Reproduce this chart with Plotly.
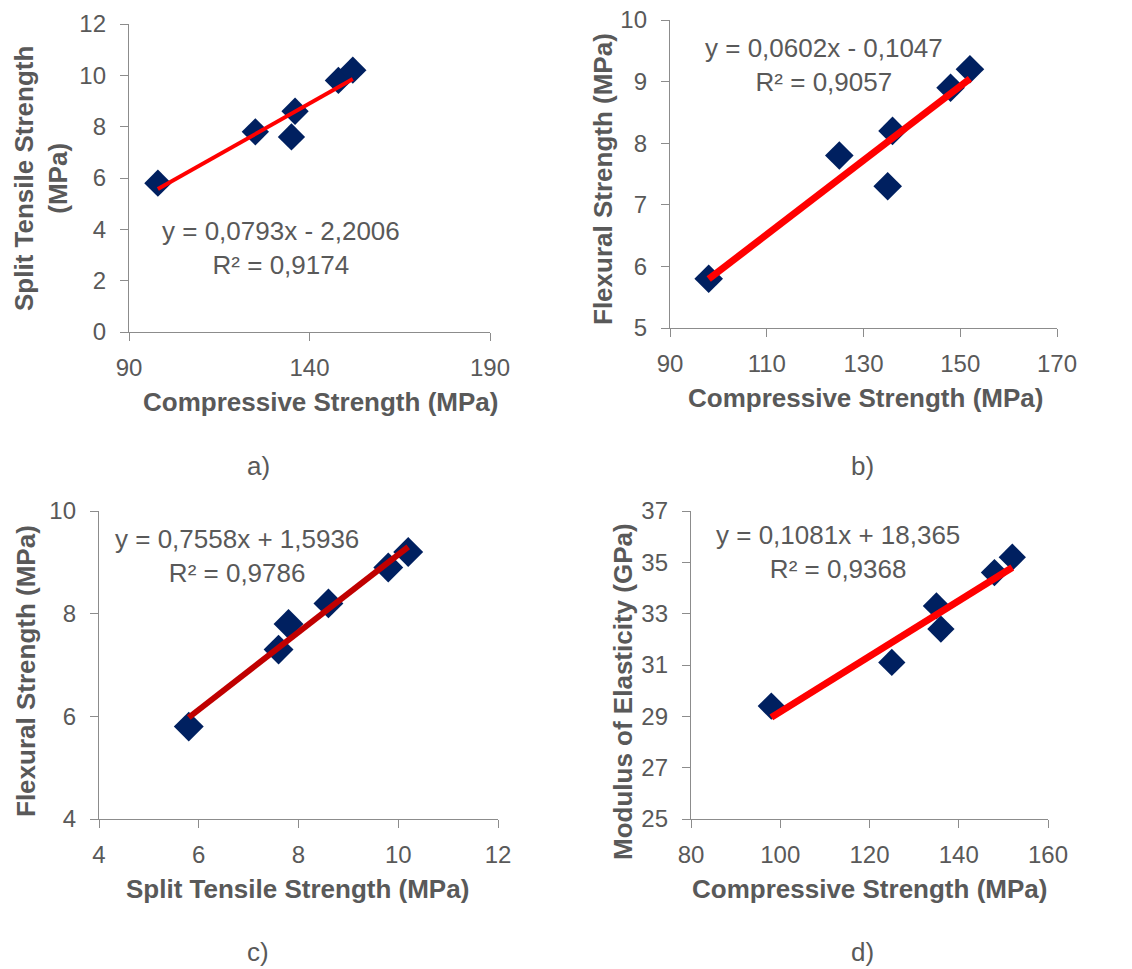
import plotly.graph_objects as go

W, H = 1132, 969

# ---------------- data ----------------
compressive = [98, 125, 135, 136, 148, 152]
split_tensile = [5.8, 7.8, 7.6, 8.6, 9.8, 10.2]
flexural = [5.8, 7.8, 7.3, 8.2, 8.9, 9.2]
split_tensile_c = [5.8, 7.8, 7.6, 8.6, 9.8, 10.2]
modulus = [29.4, 31.1, 33.3, 32.4, 34.6, 35.2]

slopes = [0.0793, 0.0602, 0.7558, 0.1081]
intercepts = [-2.2006, -0.1047, 1.5936, 18.365]
eq_texts = ["y = 0,0793x - 2,2006<br>R² = 0,9174",
            "y = 0,0602x - 0,1047<br>R² = 0,9057",
            "y = 0,7558x + 1,5936<br>R² = 0,9786",
            "y = 0,1081x + 18,365<br>R² = 0,9368"]
panel_labels = ["a)", "b)", "c)", "d)"]
x_titles = ["Compressive Strength (MPa)", "Compressive Strength (MPa)",
            "Split Tensile Strength (MPa)", "Compressive Strength (MPa)"]
y_titles = ["Split Tensile Strength<br>(MPa)", "Flexural Strength (MPa)",
            "Flexural Strength (MPa)", "Modulus of Elasticity (GPa)"]
x_ranges = [(90, 190), (90, 170), (4, 12), (80, 160)]
x_dticks = [50, 20, 2, 20]
y_ranges = [(0, 12), (5, 10), (4, 10), (25, 37)]
y_dticks = [2, 1, 2, 2]

# ---------------- styling / layout ----------------
FONT = "Liberation Sans, Arial, sans-serif"
GREY = "#595959"
AXIS = "#8c8c8c"
NAVY = "#002060"
line_colors = ["#ff0000", "#ff0000", "#c00000", "#ff0000"]
line_widths = [4, 7, 6, 7]
marker_sizes = [21, 22, 23, 21]

# pixel boxes: (x0, x1, ytop, ybottom)
boxes = [(129, 490, 24, 332), (670, 1057, 20, 328),
         (99, 498, 511, 819), (691, 1048, 511, 819)]
eq_pos = [(281, 248), (824, 65), (237, 556), (838, 552)]
xt_pos = [(320, 402), (865, 398), (297, 889), (869, 889)]
yt_pos = [(41, 179), (603, 179), (26, 671), (623, 692)]
lab_pos = [(258, 466), (862, 466), (258, 952), (862, 952)]

xs_list = [compressive, compressive, split_tensile_c, compressive]
ys_list = [split_tensile, flexural, flexural, modulus]

fig = go.Figure()
annotations = []

def px(x):
    return x / W

def py(y):
    return 1 - y / H

def note(pos, text, size, angle=0):
    return dict(x=px(pos[0]), y=py(pos[1]), xref="paper", yref="paper",
                xanchor="center", yanchor="middle", text=text,
                showarrow=False, align="center", textangle=angle,
                font=dict(family=FONT, size=size, color=GREY))

for i in range(4):
    n = "" if i == 0 else str(i + 1)
    xs, ys = xs_list[i], ys_list[i]
    xa, ya = "x" + n, "y" + n
    fig.add_trace(go.Scatter(
        x=xs, y=ys, mode="markers", xaxis=xa, yaxis=ya,
        marker=dict(symbol="diamond", size=marker_sizes[i], color=NAVY,
                    line=dict(width=0)),
        showlegend=False, hoverinfo="x+y"))
    xmin, xmax = min(xs), max(xs)
    fig.add_trace(go.Scatter(
        x=[xmin, xmax],
        y=[slopes[i] * xmin + intercepts[i], slopes[i] * xmax + intercepts[i]],
        mode="lines", xaxis=xa, yaxis=ya,
        line=dict(color=line_colors[i], width=line_widths[i]),
        showlegend=False, hoverinfo="skip"))

    x0, x1, yt, yb = boxes[i]
    common = dict(showgrid=False, zeroline=False, showline=True,
                  automargin=False,
                  linecolor=AXIS, linewidth=1.3, ticks="outside",
                  ticklen=8, tickcolor=AXIS, tickwidth=1.3,
                  tickfont=dict(family=FONT, size=24, color=GREY))
    fig.layout["xaxis" + n] = dict(
        domain=[px(x0), px(x1)], anchor=ya, range=list(x_ranges[i]),
        tick0=x_ranges[i][0], dtick=x_dticks[i], ticklabelstandoff=6,
        **common)
    fig.layout["yaxis" + n] = dict(
        domain=[py(yb), py(yt)], anchor=xa, range=list(y_ranges[i]),
        tick0=y_ranges[i][0], dtick=y_dticks[i], ticklabelstandoff=9,
        **common)

    annotations.append(note(eq_pos[i], eq_texts[i], 26))
    annotations.append(note(xt_pos[i], "<b>" + x_titles[i] + "</b>", 26))
    annotations.append(note(yt_pos[i], "<b>" + y_titles[i] + "</b>", 26, -90))
    annotations.append(note(lab_pos[i], panel_labels[i], 26))

fig.update_layout(width=W, height=H, margin=dict(l=0, r=0, t=0, b=0),
                  paper_bgcolor="white", plot_bgcolor="white",
                  annotations=annotations, showlegend=False)

fig.write_html("out.html")
